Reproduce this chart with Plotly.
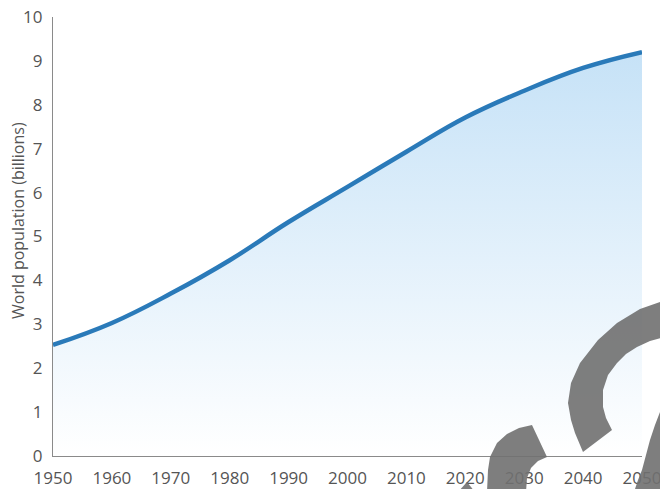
import plotly.graph_objects as go

# World population, 1950-2050 (billions)
years = [1950, 1960, 1970, 1980, 1990, 2000, 2010, 2020, 2030, 2040, 2050]
population = [2.53, 3.03, 3.70, 4.46, 5.33, 6.13, 6.93, 7.71, 8.32, 8.84, 9.20]

x_ticks = list(range(1950, 2051, 10))
y_ticks = list(range(0, 11))

W, H = 660, 489
ML, MR, MT, MB = 53, 18, 17, 33
PW, PH = W - ML - MR, H - MT - MB

LINE = "#2a7ab9"
TEXT = "#555555"
AXIS = "#8a8a8a"
FONT = "Open Sans"


def to_paper(px, py):
    return (px - ML) / PW, (H - MB - py) / PH


def poly_path(pts):
    parts = []
    for i, (px, py) in enumerate(pts):
        x, y = to_paper(px, py)
        parts.append(("M" if i == 0 else "L") + f"{x:.5f},{y:.5f}")
    return " ".join(parts) + " Z"


# Decorative grey ribbons drawn over the lower right corner
ribbons = [
    [(660, 302), (640, 309), (617, 323), (598, 340), (580, 363), (571, 383),
     (568, 403), (571, 420), (575, 433), (583, 452), (612, 430), (606, 418),
     (603, 407), (603, 390), (608, 375), (617, 363), (626, 354), (637, 347),
     (650, 341), (668, 336), (668, 298)],
    [(487, 492), (488, 470), (490, 457), (497, 443), (507, 434), (519, 428),
     (532, 425), (547, 457), (538, 461), (531, 468), (527, 478), (526, 492)],
    [(634, 492), (638, 480), (642, 470), (646, 455), (650, 440), (655, 425),
     (660, 412), (668, 405), (668, 492)],
    [(458, 492), (467, 482), (475, 492)],
]

fig = go.Figure()
fig.add_trace(go.Scatter(
    x=years, y=population,
    mode="lines",
    line=dict(color=LINE, width=4.5, shape="spline", smoothing=1.2),
    fill="tozeroy",
    fillgradient=dict(type="vertical",
                      colorscale=[[0, "rgba(255,255,255,1)"],
                                  [1, "rgba(198,226,247,1)"]]),
    cliponaxis=False,
    hoverinfo="x+y",
))

shapes = [dict(type="path", xref="paper", yref="paper", path=poly_path(p),
               fillcolor="rgb(112,112,112)", opacity=0.9, line=dict(width=0),
               layer="above")
          for p in ribbons]

fig.update_layout(
    width=W, height=H,
    margin=dict(l=ML, r=MR, t=MT, b=MB, pad=0, autoexpand=False),
    paper_bgcolor="white", plot_bgcolor="white",
    showlegend=False,
    font=dict(family=FONT, color=TEXT, size=17),
    xaxis=dict(range=[1950, 2050], tickvals=x_ticks, automargin=False,
               showgrid=False, zeroline=False, showline=True,
               linecolor=AXIS, linewidth=1.2, ticks="",
               tickfont=dict(family=FONT, size=17, color=TEXT),
               ticklabelstandoff=6, ticklabeloverflow="allow"),
    yaxis=dict(range=[0, 10], tickvals=y_ticks, automargin=False,
               showgrid=False, zeroline=False, showline=True,
               linecolor=AXIS, linewidth=1.2, ticks="",
               tickfont=dict(family=FONT, size=17, color=TEXT),
               ticklabelstandoff=6, ticklabeloverflow="allow"),
    annotations=[dict(text="World population (billions)", textangle=-90,
                      xref="paper", yref="paper",
                      x=to_paper(18, 0)[0], y=to_paper(0, 221)[1],
                      xanchor="center", yanchor="middle", showarrow=False,
                      font=dict(family=FONT, size=16, color=TEXT))],
    shapes=shapes,
)

fig.write_html("out.html")
